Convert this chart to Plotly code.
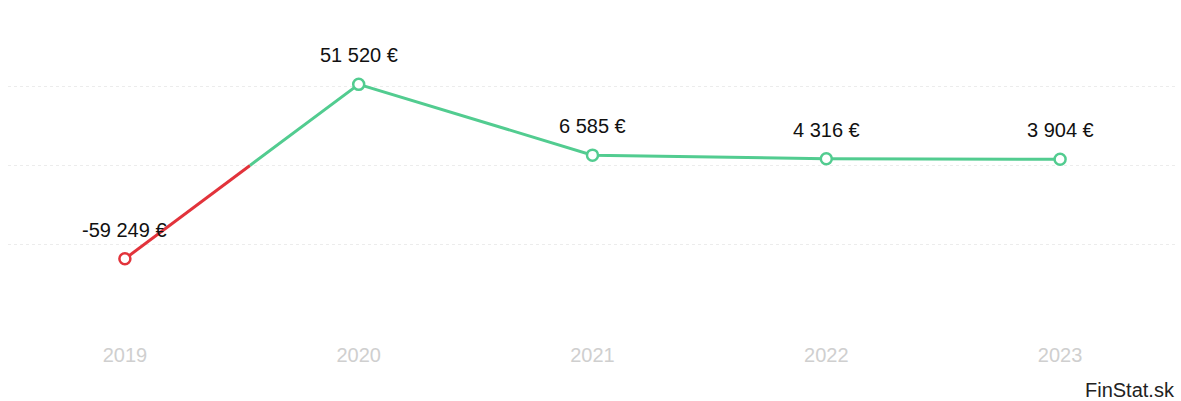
import plotly.graph_objects as go

years = ["2019", "2020", "2021", "2022", "2023"]
values = [-59249, 51520, 6585, 4316, 3904]

RED = "#e2333b"
GREEN = "#52cc90"
FONT = "Arial, Liberation Sans, sans-serif"

xs = list(range(len(years)))

def fmt(v):
    s = f"{abs(v):,}".replace(",", " ")
    return ("-" if v < 0 else "") + s + " €"

# split line into negative (red) and positive (green) segments at zero crossings
segments = []  # (color, xlist, ylist)
cur_x, cur_y = [xs[0]], [values[0]]
cur_col = RED if values[0] < 0 else GREEN
for i in range(1, len(values)):
    v0, v1 = values[i - 1], values[i]
    col1 = RED if v1 < 0 else GREEN
    if col1 != cur_col:
        t = v0 / (v0 - v1)
        xc = xs[i - 1] + t * (xs[i] - xs[i - 1])
        cur_x.append(xc); cur_y.append(0)
        segments.append((cur_col, cur_x, cur_y))
        cur_x, cur_y = [xc], [0]
        cur_col = col1
    cur_x.append(xs[i]); cur_y.append(v1)
segments.append((cur_col, cur_x, cur_y))

fig = go.Figure()
for col, sx, sy in segments:
    fig.add_trace(go.Scatter(x=sx, y=sy, mode="lines",
                             line=dict(color=col, width=3),
                             hoverinfo="skip", showlegend=False))

marker_colors = [RED if v < 0 else GREEN for v in values]
fig.add_trace(go.Scatter(x=xs, y=values, mode="markers",
                         marker=dict(symbol="circle", size=11, color="white",
                                     line=dict(color=marker_colors, width=2.5)),
                         showlegend=False))

for x, v in zip(xs, values):
    fig.add_annotation(x=x, y=v, text=fmt(v), showarrow=False,
                       yanchor="middle", yshift=29,
                       font=dict(family=FONT, size=20, color="#111111"))

fig.add_annotation(xref="paper", yref="paper", x=1.0, y=-0.213,
                   xanchor="right", yanchor="middle", text="FinStat.sk",
                   showarrow=False,
                   font=dict(family=FONT, size=20, color="#222222"))

fig.update_xaxes(range=[-0.5, 4.5], tickmode="array", tickvals=xs,
                 ticktext=years, showgrid=False, zeroline=False,
                 showline=False, ticks="outside", ticklen=14,
                 tickcolor="rgba(0,0,0,0)",
                 tickfont=dict(family=FONT, size=20, color="#cfcfcf"))
fig.update_yaxes(range=[-100000, 100000], dtick=50000,
                 showgrid=True, gridcolor="#ececec", griddash="dot",
                 zeroline=False, showticklabels=False, showline=False)

fig.update_layout(width=1181, height=401,
                  margin=dict(l=8, r=4, t=8, b=78),
                  paper_bgcolor="white", plot_bgcolor="white",
                  font=dict(family=FONT))

fig.write_html("out.html")
